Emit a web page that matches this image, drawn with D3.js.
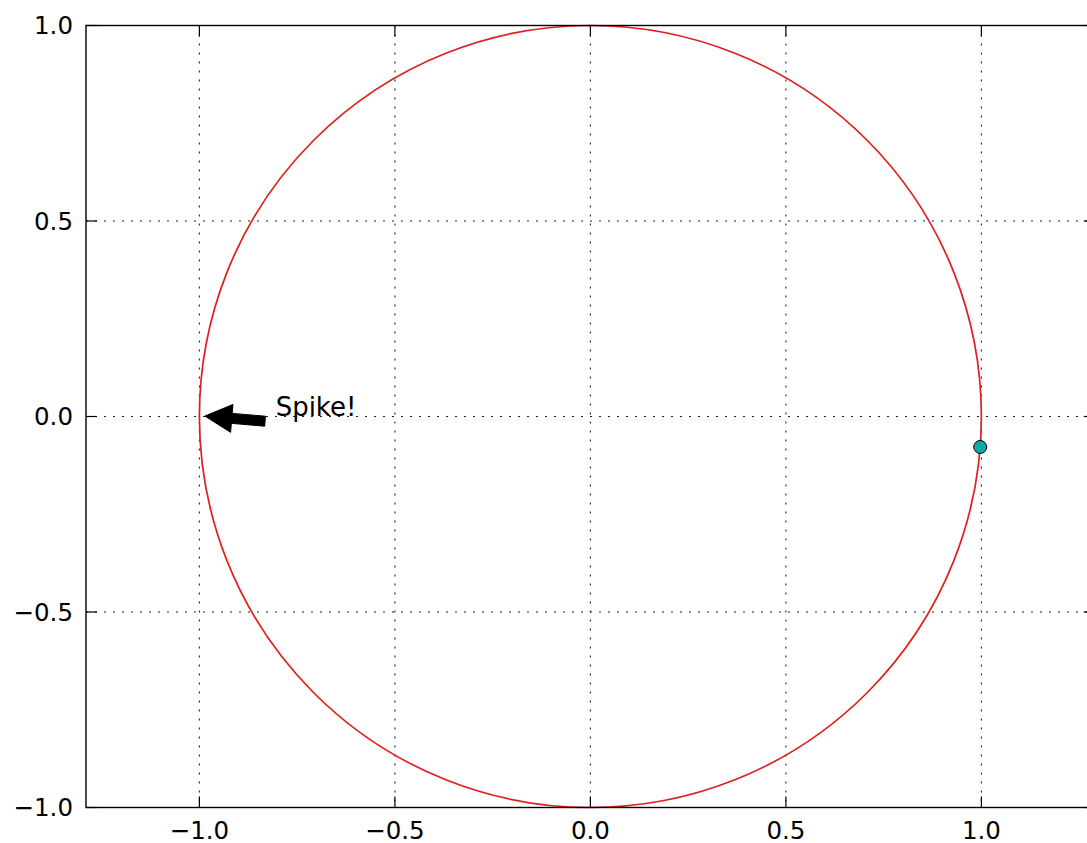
<!DOCTYPE html>
<html>
<head>
<meta charset="utf-8">
<script src="https://d3js.org/d3.v7.min.js"></script>
<style>
  html, body { margin: 0; padding: 0; background: #fff; }
  svg { display: block; }
</style>
</head>
<body>
<svg id="chart" width="1087" height="843"></svg>
<script>
// ---- data ----
const xLim = [-1.29, 1.29];
const yLim = [-1.0, 1.0];
const xTicks = [-1.0, -0.5, 0.0, 0.5, 1.0];
const yTicks = [-1.0, -0.5, 0.0, 0.5, 1.0];
const circleCenter = [0.0, 0.0];
const circleRadius = 1.0;
const markerPoint = [0.997, -0.078];
const annotationLabel = "Spike!";
const annotationTip = [-0.986, 0.001];
const annotationTail = [-0.832, -0.012];
const annotationText = [-0.805, 0.002];

(function () {
// ---- layout ----
const padL = 86, padT = 25.5, padB = 807.5;
const unit = (padB - padT) / (yLim[1] - yLim[0]);
const padR = padL + (xLim[1] - xLim[0]) * unit;

const svg = d3.select("#chart");
const x = d3.scaleLinear().domain(xLim).range([padL, padR]);
const y = d3.scaleLinear().domain(yLim).range([padB, padT]);

const fmt = d => d3.format(".1f")(d).replace("-", "\u2212");
const font = "DejaVu Sans, sans-serif";

// grid
const grid = svg.append("g");
grid.selectAll("line.gx").data(xTicks).enter().append("line")
  .attr("x1", d => x(d)).attr("x2", d => x(d))
  .attr("y1", padT).attr("y2", padB)
  .attr("stroke", "#222").attr("stroke-width", 1.1)
  .attr("stroke-dasharray", "2,7");
grid.selectAll("line.gy").data(yTicks).enter().append("line")
  .attr("y1", d => y(d)).attr("y2", d => y(d))
  .attr("x1", padL).attr("x2", padR)
  .attr("stroke", "#222").attr("stroke-width", 1.1)
  .attr("stroke-dasharray", "2,7");

// circle
svg.append("ellipse")
  .attr("cx", x(circleCenter[0])).attr("cy", y(circleCenter[1]))
  .attr("rx", x(circleRadius) - x(0)).attr("ry", y(0) - y(circleRadius))
  .attr("fill", "none").attr("stroke", "#e01e1e").attr("stroke-width", 1.7);

// marker
svg.append("circle")
  .attr("cx", x(markerPoint[0])).attr("cy", y(markerPoint[1]))
  .attr("r", 6.5)
  .attr("fill", "#10a8a6").attr("stroke", "#000").attr("stroke-width", 1);

// arrow
(function () {
  const tx = x(annotationTail[0]), ty = y(annotationTail[1]);
  const hx = x(annotationTip[0]), hy = y(annotationTip[1]);
  const dx = hx - tx, dy = hy - ty, L = Math.hypot(dx, dy);
  const ux = dx / L, uy = dy / L, px = -uy, py = ux;
  const shaftW = 5, headW = 14, headL = 27;
  const bx = hx - ux * headL, by = hy - uy * headL;
  const pts = [
    [tx + px * shaftW, ty + py * shaftW],
    [bx + px * shaftW, by + py * shaftW],
    [bx + px * headW, by + py * headW],
    [hx, hy],
    [bx - px * headW, by - py * headW],
    [bx - px * shaftW, by - py * shaftW],
    [tx - px * shaftW, ty - py * shaftW]
  ];
  svg.append("path").attr("d", "M" + pts.map(p => p.join(",")).join("L") + "Z")
    .attr("fill", "#000").attr("stroke", "#000").attr("stroke-width", 1);
})();

svg.append("text")
  .attr("x", x(annotationText[0])).attr("y", y(annotationText[1]))
  .attr("font-family", font).attr("font-size", 26).attr("fill", "#000")
  .text(annotationLabel);

// spines
svg.append("rect").attr("x", padL).attr("y", padT)
  .attr("width", padR - padL).attr("height", padB - padT)
  .attr("stroke", "#000").attr("stroke-width", 1.4).attr("fill", "none");

// ticks (inward) on all four sides
const tl = 11;
const tk = svg.append("g").attr("stroke", "#000").attr("stroke-width", 1.2);
xTicks.forEach(d => {
  tk.append("line").attr("x1", x(d)).attr("x2", x(d)).attr("y1", padB).attr("y2", padB - tl);
  tk.append("line").attr("x1", x(d)).attr("x2", x(d)).attr("y1", padT).attr("y2", padT + tl);
});
yTicks.forEach(d => {
  tk.append("line").attr("y1", y(d)).attr("y2", y(d)).attr("x1", padL).attr("x2", padL + tl);
  tk.append("line").attr("y1", y(d)).attr("y2", y(d)).attr("x1", padR).attr("x2", padR - tl);
});

// tick labels
svg.append("g").selectAll("text").data(xTicks).enter().append("text")
  .attr("x", d => x(d)).attr("y", padB + 31)
  .attr("text-anchor", "middle")
  .attr("font-family", font).attr("font-size", 24.5).attr("fill", "#000")
  .text(fmt);
svg.append("g").selectAll("text").data(yTicks).enter().append("text")
  .attr("x", padL - 13).attr("y", d => y(d))
  .attr("dy", "0.36em")
  .attr("text-anchor", "end")
  .attr("font-family", font).attr("font-size", 24.5).attr("fill", "#000")
  .text(fmt);
})();
</script>
</body>
</html>
